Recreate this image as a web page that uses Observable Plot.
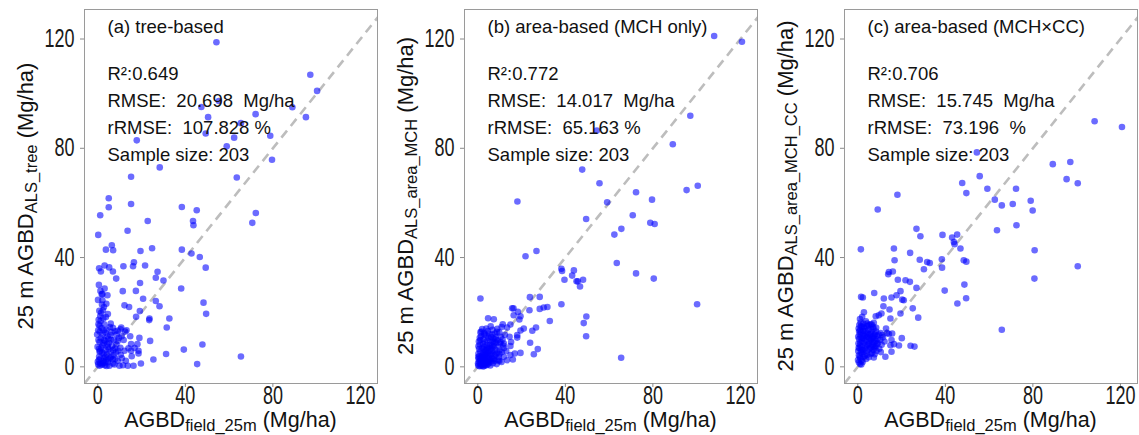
<!DOCTYPE html>
<html><head><meta charset="utf-8">
<script src="https://cdn.jsdelivr.net/npm/d3@7"></script>
<script src="https://cdn.jsdelivr.net/npm/@observablehq/plot@0.6"></script>
<style>
body{margin:0;background:#fff;}
#row{display:flex;width:1139px;height:435px;overflow:hidden;}
svg text{white-space:pre;}
</style></head><body><div id="row"></div>
<script>
// ---------- data ----------
const panelTitles = ["(a) tree-based", "(b) area-based (MCH only)", "(c) area-based (MCH×CC)"];
const ySubscripts = ["ALS_tree", "ALS_area_MCH", "ALS_area_MCH_CC"];
const statR2 = ["0.649", "0.772", "0.706"];
const statRMSE = ["20.698", "14.017", "15.745"];
const statRRMSE = ["107.828 %", "65.163 %", "73.196  %"];
const sampleSize = [203, 203, 203];
const xTicks = [0, 40, 80, 120];
const yTicks = [0, 40, 80, 120];
const xDomain = [-6.08, 127.8];
const yDomain = [-6.1, 130.8];

// (a) tree-based: [field AGBD, ALS AGBD]
const pointsTree = [
[54.2,118.8],[97.1,106.9],[100.2,101.0],[47.3,95.1],[55.3,97.3],[88.9,95.0],[72.1,92.5],[95.1,91.4],[65.4,89.2],[50.4,91.4],
[49.3,85.4],[62.3,83.9],[78.8,84.6],[17.8,82.9],[58.9,80.7],[79.6,75.8],[28.3,73.0],[15.2,69.6],[63.5,69.3],[5.0,61.7],
[5.0,58.4],[15.2,59.6],[38.4,58.5],[45.2,57.3],[72.2,56.3],[70.6,52.7],
[1.1,55.5],[43.5,53.4],[43.7,51.8],[22.8,53.4],[0.2,48.3],[13.6,49.8],[6.4,44.5],[7.0,42.7],[3.7,42.9],[19.5,42.4],
[24.8,43.4],[38.4,42.9],[42.8,41.5],[46.6,40.2],[49.3,36.3],[16.5,38.3],[16.1,36.8],[11.7,36.8],[21.6,37.1],[0.6,36.1],
[3.1,37.1],[5.2,36.4],[1.4,34.9],[6.9,34.9],[8.4,32.3],[27.3,34.8],[26.5,32.6],[30.0,31.6],[19.3,30.7],[3.1,28.7],
[11.4,27.7],[17.4,27.8],[38.1,28.7],[2.1,26.6],[1.8,26.6],[4.4,26.2],[20.7,24.9],[26.5,24.1],[28.2,22.2],[48.3,23.5],
[2.1,24.4],[2.8,21.9],[12.2,22.5],[14.3,21.9],[4.6,19.3],[1.1,18.6],[2.3,20.7],[19.2,20.4],[17.5,18.3],[49.5,19.4],
[23.6,17.7],[23.5,17.1],[32.7,17.7],[31.5,14.4],[0.3,15.6],[2.9,15.6],[5.5,14.6],[6.9,14.3],[10.7,14.4],[10.4,13.7],
[9.1,13.2],[13.1,13.4],[0.2,13.4],[-0.3,11.8],[4.4,11.2],[5.8,11.6],[14.8,11.2],[19.0,10.6],[23.9,9.5],[2.9,9.8],
[0.8,9.1],[7.3,9.8],[9.1,9.5],[2.1,7.9],[4.6,7.3],[15.2,8.3],[18.1,8.3],[39.3,6.3],[47.8,8.2],[-0.1,7.3],
[0.8,5.5],[2.8,4.9],[5.8,5.5],[7.9,6.7],[9.3,5.9],[12.2,5.9],[15.2,5.9],[18.6,5.9],[18.6,4.9],[31.2,4.7],
[15.5,3.9],[11.0,3.1],[25.4,2.7],[0.6,3.7],[2.8,3.1],[4.9,2.7],[6.1,3.7],[0.0,1.8],[2.3,1.2],[4.6,1.7],
[6.9,1.2],[9.1,2.2],[0.8,0.4],[5.3,0.4],[9.9,0.4],[13.7,0.4],[16.3,0.4],[19.7,1.2],[45.4,1.0],[65.4,3.8],
[0.5,2.5],[1.2,3.0],[1.8,0.8],[2.5,2.0],[3.2,0.6],[3.8,2.4],[4.2,4.5],[1.0,5.8],[1.6,7.0],[3.5,6.2],
[0.3,9.8],[1.4,10.5],[2.2,11.8],[3.6,12.5],[0.9,12.8],[1.7,14.2],[4.0,13.6],[2.6,8.6],[3.3,9.5],[5.1,8.8],
[6.0,9.9],[6.5,7.6],[7.2,4.2],[8.0,3.0],[8.5,8.2],[10.3,7.0],[11.8,9.8],[10.9,11.2],[8.6,11.8],[7.8,13.0],
[0.4,17.2],[1.3,16.8],[2.5,17.8],[0.7,20.5],[1.9,22.8],[3.9,23.1],[0.5,30.0],[1.2,27.8],[0.1,24.5],[5.6,3.2],
[6.8,2.8],[7.6,0.9],[3.0,1.5],[1.1,1.3],[0.2,0.9],[4.0,0.3],[8.3,5.3],[10.5,4.4],[12.8,2.2],[14.0,6.8],
[11.5,0.6],[2.0,5.2],[3.4,3.8],[5.0,6.5],[0.6,6.6],[4.8,10.3],[6.3,12.6],[9.6,10.6],[12.5,12.9],[2.7,13.4],
[5.9,15.8],[0.8,15.0],[3.7,18.2],[1.5,19.8],[16.8,6.9],[7.0,6.1],[4.3,8.2]
];

// (b) area-based, MCH only
const pointsMCH = [
[108.0,121.1],[120.7,119.0],[97.1,91.9],[54.4,86.5],[89.1,81.5],[47.7,72.2],[55.6,67.2],[18.1,60.5],[72.3,63.9],[79.6,61.2],
[95.4,64.7],[100.5,66.3],[59.1,60.2],[70.8,55.5],[49.5,54.1],[78.8,52.7],[80.8,52.3],[65.6,50.5],[62.4,48.4],[63.5,38.0],
[72.3,34.2],[80.4,32.3],[100.2,22.9],[65.5,3.3],[26.8,42.4],[21.8,40.5],[38.2,35.9],[38.5,35.1],[43.9,35.3],[43.1,33.4],
[39.6,31.9],[45.1,31.3],[45.7,31.3],[48.1,31.9],[46.7,29.4],[1.2,25.0],[23.8,25.5],[28.3,25.6],[38.2,22.9],[15.7,21.4],
[16.3,21.4],[18.3,20.1],[23.6,20.7],[28.3,21.2],[30.1,21.7],[31.8,21.9],[16.4,18.9],[19.5,18.5],[19.0,17.3],[4.7,17.8],
[7.3,17.4],[32.9,16.8],[49.6,18.4],[48.4,16.0],[49.5,11.2],[11.4,15.6],[10.9,14.6],[14.9,15.5],[13.4,14.4],[8.8,12.8],
[21.0,14.0],[19.5,13.3],[18.0,11.6],[26.6,14.4],[24.9,13.2],[14.5,11.0],[18.0,10.7],[1.2,12.6],[3.1,11.9],[8.1,10.0],
[10.4,9.1],[11.9,8.5],[15.2,9.1],[14.9,7.6],[23.9,8.8],[27.4,6.5],[25.6,4.6],[16.9,4.9],[19.5,5.1],[14.9,4.3],
[11.9,3.7],[13.4,2.4],[16.0,2.7],[9.8,2.1],[7.0,2.7],
[0.2,0.5],[0.5,1.8],[0.8,0.2],[1.0,3.1],[1.3,1.0],[1.5,2.4],[1.8,4.0],[2.0,0.7],[2.2,1.9],[2.5,3.3],
[2.7,5.2],[3.0,1.2],[3.2,2.6],[3.4,4.4],[3.6,6.1],[3.9,0.6],[4.1,3.0],[4.3,5.0],[4.6,1.8],[4.8,7.0],
[5.0,3.8],[5.3,5.9],[5.5,2.5],[5.8,8.1],[6.0,4.6],[6.3,6.8],[6.5,3.2],[6.8,9.2],[7.1,5.4],[7.4,7.6],
[7.7,4.1],[8.0,6.3],[8.4,8.8],[8.8,5.0],[9.2,7.2],[9.6,3.6],[10.0,6.0],[10.5,11.0],[11.0,5.4],[11.6,7.8],
[0.3,4.8],[0.6,6.5],[0.9,8.2],[1.2,9.8],[1.5,11.2],[1.9,6.9],[2.3,8.4],[2.6,10.1],[3.0,7.4],[3.3,9.0],
[3.7,11.5],[4.0,8.0],[4.4,9.6],[4.9,10.7],[5.2,12.0],[5.6,9.7],[6.1,10.9],[6.6,11.8],[7.2,10.3],[0.4,2.9],
[0.7,3.9],[1.1,5.6],[1.4,0.4],[1.7,1.5],[2.1,2.8],[2.4,4.6],[2.9,0.3],[3.1,3.7],[3.5,5.6],[3.8,2.1],
[4.2,6.6],[4.5,0.9],[4.7,4.2],[5.1,1.4],[5.4,7.4],[5.7,0.5],[6.2,2.0],[6.4,5.9],[6.9,1.3],[7.3,3.0],
[7.8,2.2],[8.2,4.5],[8.6,1.0],[9.0,9.7],[9.4,2.5],[9.9,4.8],[10.2,8.6],[10.8,1.8],[11.3,10.0],[12.0,6.9],
[12.4,11.7],[13.0,5.8],[0.1,1.2],[0.3,7.5],[0.5,9.3],[0.9,10.6],[1.6,12.9],[2.0,13.8],[2.8,12.4],[3.9,14.0],
[4.6,13.1],[5.9,14.8],[6.7,13.6],[7.9,12.2],[8.9,13.9],[9.8,12.6],[0.2,3.6],[1.0,2.0],[1.9,3.5],[2.6,6.3],
[3.3,0.8],[4.0,1.6],[4.9,2.9],[5.6,4.9],[6.6,7.9],[7.5,8.9],[8.1,10.8],[2.4,0.1]
];

// (c) area-based, MCH x CC
const pointsMCHCC = [
[108.2,89.9],[120.7,87.8],[54.4,78.5],[89.1,74.2],[97.1,75.0],[55.7,69.8],[47.7,67.3],[95.4,68.7],[100.5,67.2],[18.1,63.0],
[49.6,63.6],[59.2,65.2],[72.3,65.2],[9.1,57.6],[62.6,61.2],[65.8,59.1],[70.8,59.6],[79.0,60.8],[79.9,57.2],[26.8,50.5],
[63.6,50.0],[72.5,51.8],[28.6,47.8],[38.7,48.3],[43.1,47.3],[43.9,45.7],[44.2,44.9],[45.4,48.4],[46.9,43.3],[1.4,43.0],
[16.5,43.3],[23.9,41.7],[16.8,39.0],[28.3,39.2],[31.7,38.4],[32.9,38.0],[38.4,39.4],[38.5,36.3],[48.4,39.0],[49.6,38.5],
[30.2,35.7],[13.9,33.9],[14.2,34.7],[16.0,34.9],[18.3,31.9],[21.8,31.7],[23.8,31.1],[26.8,28.9],[39.7,27.9],[48.7,30.1],
[7.5,27.0],[1.5,25.6],[2.3,25.4],[11.9,25.0],[15.4,25.4],[17.7,26.2],[19.5,27.7],[20.3,24.6],[21.0,24.4],[49.5,25.1],
[45.5,23.2],[11.7,22.2],[14.5,21.0],[25.1,21.4],[2.8,20.0],[10.8,19.5],[9.6,18.9],[19.5,19.5],[8.2,18.5],[14.9,17.7],
[27.6,18.0],[1.0,17.5],[2.0,18.3],[7.3,16.1],[5.8,15.6],[4.3,15.8],[1.5,14.9],[2.8,14.6],[12.9,14.0],[13.4,12.4],
[15.7,12.2],[14.2,12.0],[10.4,12.4],[11.2,11.6],[20.1,10.5],[15.4,9.8],[16.5,8.3],[14.9,7.9],[18.8,7.8],[24.1,7.7],
[25.9,7.4],[7.3,7.3],[8.8,8.3],[8.1,7.6],[7.3,3.4],[10.5,5.4],[12.6,3.7],[15.4,5.5],[1.0,1.0],[80.8,42.7],
[100.5,36.8],[80.7,32.3],[65.8,13.6],
[0.3,8.5],[0.6,10.2],[0.9,11.8],[1.2,9.0],[1.5,12.6],[1.8,7.4],[2.1,10.6],[2.4,13.2],[2.7,8.8],[3.0,11.4],
[3.3,6.6],[3.6,9.8],[3.9,12.2],[4.2,7.9],[4.5,10.9],[4.8,13.5],[5.1,8.6],[5.4,11.7],[5.7,6.9],[6.0,10.0],
[6.3,12.8],[6.6,9.2],[6.9,11.1],[7.2,13.9],[7.5,10.4],[7.8,12.0],[8.1,9.5],[8.4,14.3],[8.7,11.3],[9.0,10.1],
[0.2,5.8],[0.5,4.2],[0.8,6.9],[1.1,3.1],[1.4,5.3],[1.7,2.2],[2.0,4.7],[2.3,6.1],[2.6,3.6],[2.9,5.5],
[3.2,4.0],[3.5,7.7],[3.8,2.9],[4.1,5.9],[4.4,4.4],[4.7,8.2],[5.0,3.5],[5.3,6.4],[5.6,9.4],[5.9,4.8],
[6.2,7.2],[6.5,5.1],[6.8,8.0],[7.1,6.2],[7.4,9.0],[7.7,4.6],[8.0,7.0],[8.5,5.8],[9.2,8.7],[9.8,6.6],
[10.3,9.9],[10.9,8.1],[11.5,10.8],[12.2,9.3],[0.4,14.0],[0.7,15.3],[1.0,13.3],[1.3,16.2],[1.9,14.6],[2.5,15.8],
[3.1,14.1],[3.7,16.7],[4.3,14.9],[5.0,15.2],[5.8,13.9],[6.4,15.5],[7.0,14.7],[0.1,2.5],[0.5,1.7],[0.9,3.9],
[1.6,0.9],[2.2,1.8],[0.2,11.0],[0.4,7.0],[0.6,12.9],[1.0,8.0],[1.3,10.8],[1.6,6.2],[2.0,9.4],[2.4,11.9],
[2.8,10.1],[3.4,13.0],[4.0,11.0],[4.6,12.1],[5.2,10.3],[5.9,11.9],[6.7,10.6],[7.6,11.6],[8.3,12.9],[9.5,11.8]
];

const panelPoints = [pointsTree, pointsMCH, pointsMCHCC];
const panelWidths = [380, 380, 379];

// ---------- drawing ----------
const FONT = "Liberation Sans, Arial, Helvetica, sans-serif";
const ML = 84, MT = 9, MB = 52, PW = 293, H = 435;
const TICK_FS = 25, TICK_SQUEEZE = 0.72;
const row = document.getElementById("row");

panelPoints.forEach((pts, i) => {
  const w = panelWidths[i];
  const statsText = [
    `R²:${statR2[i]}`,
    `RMSE:  ${statRMSE[i]}  Mg/ha`,
    `rRMSE:  ${statRRMSE[i]}`,
    `Sample size: ${sampleSize[i]}`
  ].join("\n");
  const svg = Plot.plot({
    width: w, height: H,
    marginLeft: ML, marginRight: w - ML - PW, marginTop: MT, marginBottom: MB,
    style: {fontFamily: FONT, background: "white", color: "#1a1a1a", overflow: "visible"},
    x: {domain: xDomain},
    y: {domain: yDomain},
    marks: [
      Plot.link([yDomain], {x1: d => d[0], y1: d => d[0], x2: d => d[1], y2: d => d[1],
        stroke: "#bdbdbd", strokeWidth: 2.6, strokeDasharray: "9,6", clip: true}),
      Plot.dot(pts, {x: d => d[0], y: d => d[1], r: 3.3, fill: "#0000ff", fillOpacity: 0.58, stroke: null}),
      Plot.frame({stroke: "#9a9a9a", strokeWidth: 1}),
      Plot.axisX({ticks: xTicks, tickSize: 4, tickFormat: () => "", stroke: "#8a8a8a", label: null}),
      Plot.axisY({ticks: yTicks, tickSize: 4, tickFormat: () => "", stroke: "#8a8a8a", label: null}),
      // tick labels
      Plot.text(xTicks, {x: d => d, text: d => String(d), frameAnchor: "bottom", lineAnchor: "top",
        dy: 3, fontSize: TICK_FS, fill: "#1a1a1a", ariaLabel: "x tick label"}),
      Plot.text(yTicks, {y: d => d, text: d => String(d), frameAnchor: "left", textAnchor: "end",
        dx: -10, fontSize: TICK_FS, fill: "#1a1a1a", ariaLabel: "y tick label"}),
      Plot.text([panelTitles[i]], {text: d => d, frameAnchor: "top-left", textAnchor: "start", lineAnchor: "top",
        dx: 23, dy: 10.5, fontSize: 18.5, fill: "#111"}),
      Plot.text([statsText], {text: d => d, frameAnchor: "top-left", textAnchor: "start", lineAnchor: "top",
        dx: 23, dy: 51.5, fontSize: 18.5, lineHeight: 1.46, fill: "#111"})
    ]
  });
  svg.querySelectorAll("text").forEach(t => t.setAttributeNS("http://www.w3.org/XML/1998/namespace", "xml:space", "preserve"));

  const s = d3.select(svg);
  // x-axis title with subscript
  const xt = s.append("text").attr("x", ML + PW / 2).attr("y", 427)
    .attr("text-anchor", "middle").attr("font-size", 21.5).attr("font-family", FONT).attr("fill", "#111");
  xt.append("tspan").text("AGBD");
  xt.append("tspan").attr("font-size", 16.5).attr("dy", 3.5).text("field_25m");
  xt.append("tspan").attr("dy", -3.5).text(" (Mg/ha)");
  // y-axis title with subscript
  const yt = s.append("text").attr("transform", `translate(33,${MT + (H - MT - MB) / 2}) rotate(-90)`)
    .attr("text-anchor", "middle").attr("font-size", 22).attr("font-family", FONT).attr("fill", "#111");
  yt.append("tspan").text("25 m AGBD");
  yt.append("tspan").attr("font-size", 16.5).attr("dy", 4).text(ySubscripts[i]);
  yt.append("tspan").attr("dy", -4).text(" (Mg/ha)");

  svg.style.flex = "0 0 auto";
  row.appendChild(svg);

  // tick labels in the reference are tall and narrow: squeeze them horizontally
  svg.querySelectorAll("text").forEach(t => {
    if (/^\d+$/.test(t.textContent.trim())) {
      const L = t.getComputedTextLength();
      if (L > 0) {
        t.setAttribute("textLength", (L * TICK_SQUEEZE).toFixed(2));
        t.setAttribute("lengthAdjust", "spacingAndGlyphs");
      }
    }
  });
});
</script></body></html>
